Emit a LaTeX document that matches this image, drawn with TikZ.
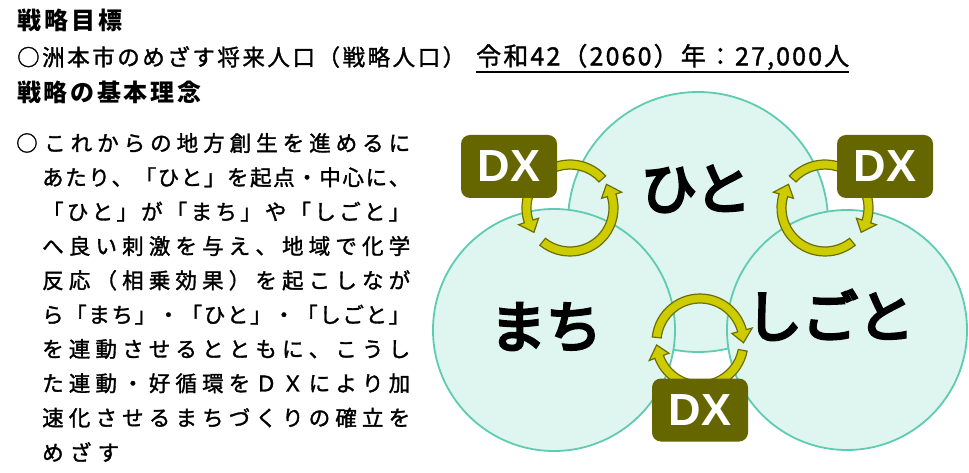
\documentclass[tikz,border=0pt]{standalone}
\usepackage{fontspec}
\setmainfont{Noto Sans CJK JP}
\newfontfamily\parafont{Noto Sans CJK JP}[FakeBold=1.5]
\newfontfamily\labelfont{Noto Sans CJK JP}[FakeBold=5]
\newfontfamily\dxfont{Liberation Sans}
\definecolor{cfill}{RGB}{223,245,239}
\definecolor{cline}{RGB}{94,204,176}
\definecolor{dxbox}{RGB}{102,102,0}
\definecolor{arrfill}{RGB}{204,204,0}
\definecolor{arrline}{RGB}{110,110,0}
\def\spr#1{\sprA#1\relax}
\def\sprA#1{#1\sprB}
\def\sprB#1{\ifx\relax#1\else\hfil#1\expandafter\sprB\fi}
\newcommand\cyarr[5]{%
  \filldraw[arrowshape, shift={(#1,#2)}] (#3:48pt) arc[start angle=#3, end angle=#4, radius=48pt]
    -- (#4:54pt) -- (#5:43.5pt) -- (#4:33pt) -- (#4:39pt)
    arc[start angle=#4, end angle=#3, radius=39pt] -- cycle;}
\tikzset{
  circ/.style={circle, draw=cline, fill=cfill, line width=1.8pt, inner sep=0pt},
  dxnode/.style={rounded corners=9pt, fill=dxbox, text=white, font=\dxfont\bfseries\fontsize{45}{45}\selectfont,
    minimum width=96pt, minimum height=63pt, inner sep=0pt},
  arrowshape/.style={fill=arrfill, draw=arrline, line width=1.2pt, line join=miter},
  big/.style={font=\labelfont\fontsize{56}{56}\selectfont, inner sep=0pt},
  txt/.style={anchor=west, inner sep=0pt, font=\parafont\fontsize{21.5}{21.5}\selectfont},
  head/.style={anchor=west, inner sep=0pt, font=\bfseries\fontsize{24}{24}\selectfont},
  plain/.style={anchor=west, inner sep=0pt, font=\parafont\fontsize{22.5}{22.5}\selectfont},
}
\begin{document}
\begin{tikzpicture}[x=1pt, y=1pt]
\useasboundingbox (0,0) rectangle (969,472);
% headings
\node[head] (h1) at (17,452) {\hbox to 105pt{\spr{戦略目標}}};
\node[plain] (h2) at (17,415) {\hbox to 448pt{\spr{○洲本市のめざす将来人口（戦略人口）}}};
\node[plain, font=\parafont\fontsize{25}{25}\selectfont] (h2r) at (476,415) {\hbox to 373pt{\spr{令和42（2060）年：27,000人}}};
\draw[line width=1.5pt] (476,400) coordinate (u1) -- (849,400) coordinate (u2);
\node[head] (h3) at (17,380) {\hbox to 184pt{\spr{戦略の基本理念}}};
% paragraph
\node[txt] (p0) at (16,329) {○};
\node[txt] (p1) at (44,329) {\hbox to 366pt{\spr{これからの地方創生を進めるに}}};
\node[txt] (p2) at (42,294.7) {\hbox to 368pt{\spr{あたり、「ひと」を起点・中心に、}}};
\node[txt] (p3) at (42,260.3) {\hbox to 368pt{\spr{「ひと」が「まち」や「しごと」}}};
\node[txt] (p4) at (42,226) {\hbox to 368pt{\spr{へ良い刺激を与え、地域で化学}}};
\node[txt] (p5) at (42,191.7) {\hbox to 368pt{\spr{反応（相乗効果）を起こしなが}}};
\node[txt] (p6) at (42,157.3) {\hbox to 368pt{\spr{ら「まち」・「ひと」・「しごと」}}};
\node[txt] (p7) at (42,123) {\hbox to 368pt{\spr{を連動させるとともに、こうし}}};
\node[txt] (p8) at (42,88.7) {\hbox to 368pt{\spr{た連動・好循環をＤＸにより加}}};
\node[txt] (p9) at (42,54.3) {\hbox to 368pt{\spr{速化させるまちづくりの確立を}}};
\node[txt] (p10) at (42,20) {\hbox to 77pt{\spr{めざす}}};
% circles
\node[circ, minimum size=260pt] (chito) at (698,250) {};
\node[circ, minimum size=242pt] (cmachi) at (554,142) {};
\node[circ, minimum size=240pt] (cshigoto) at (847,142) {};
\node[big] (lhito) at (696,283) {ひと};
\node[big] (lmachi) at (546,145) {まち};
\node[big] (lshigoto) at (830,157) {しごと};
% cycle arrows
\cyarr{570}{264}{42}{198}{214}
\cyarr{570}{264}{231}{377}{393}
\cyarr{825}{264}{138}{-18}{-34}
\cyarr{825}{264}{-51}{-197}{-213}
\cyarr{700}{130}{174}{15}{-1}
\cyarr{700}{130}{-11}{-160}{-176}
% DX boxes
\node[dxnode] (dx1) at (509,305.5) {DX};
\node[dxnode] (dx2) at (885,305.5) {DX};
\node[dxnode] (dx3) at (700,62) {DX};
\end{tikzpicture}
\end{document}
